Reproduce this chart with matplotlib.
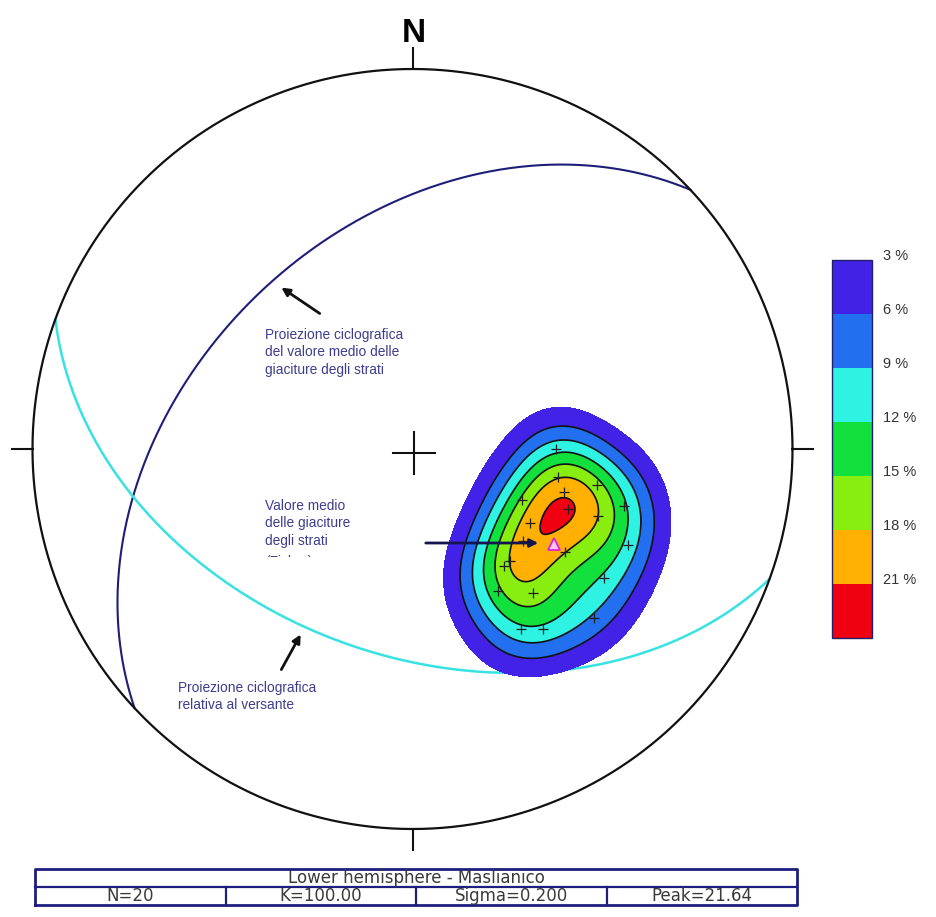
import numpy as np
import matplotlib
matplotlib.use("Agg")
import matplotlib.pyplot as plt
from matplotlib.transforms import Bbox

plt.rcParams['font.family'] = ['Liberation Sans', 'DejaVu Sans']

pole_trend = [90, 101, 111, 101, 105, 115, 122, 130, 106, 139,
              124, 110, 124, 140, 149, 149, 144, 133, 142, 114]
pole_plunge = [59, 58, 54, 49, 42, 64, 60, 59, 56, 58,
               50, 47, 39, 49, 54, 44, 41, 35, 58, 38]
mean_trend, mean_plunge = 124, 53          # valore medio (triangolo)

# Piani: (immersione, inclinazione)
piano_medio = (317, 42)
piano_versante = (200, 45)

livelli = [3, 6, 9, 12, 15, 18, 21]
etichette = ['3 %', '6 %', '9 %', '12 %', '15 %', '18 %', '21 %']
colori = ['#4222E6', '#2270F0', '#2EF2E2', '#12E03C', '#88EE10', '#FFB000', '#F00010']
peak = 21.64
kappa = 56    # concentrazione del kernel di Fisher usato per le isolinee

titolo_tabella = 'Lower hemisphere - Maslianico'
celle_tabella = ['N=20', 'K=100.00', 'Sigma=0.200', 'Peak=21.64']

# --- geometria della figura (pixel) ---
W, H = 936, 917
CX, CY, R = 412.5, 449.0, 380.0


def px(x, y):
    """pixel dell'immagine -> coordinate del reticolo (raggio 1)"""
    return (x - CX) / R, (CY - y) / R


def proietta(trend, plunge):
    """proiezione equiareale, emisfero inferiore"""
    t = np.radians(trend)
    p = np.radians(plunge)
    r = np.sqrt(2) * np.sin((np.pi / 2 - p) / 2)
    return r * np.sin(t), r * np.cos(t)


def vettori(trend, plunge):
    t = np.radians(np.asarray(trend, float))
    p = np.radians(np.asarray(plunge, float))
    return np.stack([np.cos(p) * np.sin(t), np.cos(p) * np.cos(t), np.sin(p)], axis=-1)


def ciclografica(immersione, inclinazione, n=361):
    dd = np.radians(immersione)
    d = np.radians(inclinazione)
    s = np.array([np.sin(dd - np.pi / 2), np.cos(dd - np.pi / 2), 0.0])
    v = np.array([np.cos(d) * np.sin(dd), np.cos(d) * np.cos(dd), np.sin(d)])
    phi = np.linspace(0, np.pi, n)
    vec = np.outer(np.cos(phi), s) + np.outer(np.sin(phi), v)
    plunge = np.degrees(np.arcsin(np.clip(vec[:, 2], -1, 1)))
    trend = np.degrees(np.arctan2(vec[:, 0], vec[:, 1]))
    return proietta(trend, plunge)


fig = plt.figure(figsize=(W / 100, H / 100), dpi=100)
ax = fig.add_axes([0, 0, 1, 1])
ax.set_xlim(-CX / R, (W - CX) / R)
ax.set_ylim(-(H - CY) / R, CY / R)
ax.axis('off')

# densita' dei poli (kernel di Fisher sulla sfera), riportata al picco
g = np.linspace(-1, 1, 501)
X, Y = np.meshgrid(g, g)
rr = np.hypot(X, Y)
theta = 2 * np.arcsin(np.clip(rr / np.sqrt(2), 0, 1))
tr = np.arctan2(X, Y)
grid = np.stack([np.sin(theta) * np.sin(tr), np.sin(theta) * np.cos(tr), np.cos(theta)], axis=-1)
poli = vettori(pole_trend, pole_plunge)
dens = np.zeros_like(X)
for p in poli:
    c = np.abs(grid @ p)
    dens += np.exp(kappa * (c - 1))
dens = dens / dens[rr <= 1].max() * peak
dens[rr > 1] = np.nan

cf = ax.contourf(X, Y, dens, levels=livelli + [peak + 1], colors=colori, zorder=2)
ax.contour(X, Y, dens, levels=livelli[1:], colors='#111111', linewidths=1.2, zorder=3)

# ciclografiche
xm, ym = ciclografica(*piano_medio)
ax.plot(xm, ym, color='#1E1E78', lw=1.5, zorder=1)
xv, yv = ciclografica(*piano_versante)
ax.plot(xv, yv, color='#38E2E2', lw=1.8, zorder=1)

# poli e valore medio
xp, yp = proietta(np.array(pole_trend), np.array(pole_plunge))
ax.plot(xp, yp, '+', color='#202020', ms=7, mew=0.9, zorder=4)
xt, yt = proietta(mean_trend, mean_plunge)
ax.plot(xt, yt, '^', ms=9, mfc='#F6C8F4', mec='#E020D8', mew=1.3, zorder=5)

# cerchio primitivo, tacche e croce centrale
a = np.linspace(0, 2 * np.pi, 721)
ax.plot(np.cos(a), np.sin(a), color='#111111', lw=1.6, zorder=6)
tk = 0.055
for dx, dy in [(0, 1), (1, 0), (0, -1), (-1, 0)]:
    ax.plot([dx, dx * (1 + tk)], [dy, dy * (1 + tk)], color='#111111', lw=1.5)
cc = 0.055
ax.plot([-cc + 0.004, cc + 0.004], [-0.011, -0.011], color='#111111', lw=1.5)
ax.plot([0.004, 0.004], [-cc - 0.011, cc - 0.011], color='#111111', lw=1.5)
ax.text(*px(414, 34), 'N', fontsize=24, fontweight='bold', ha='center', va='center')

# annotazioni
col_txt = '#3D3D8F'
fs = 9.9
ax.text(*px(265, 328), 'Proiezione ciclografica\ndel valore medio delle\ngiaciture degli strati',
        fontsize=fs, color=col_txt, ha='left', va='top', linespacing=1.3)
ax.annotate('', xy=px(279, 286), xytext=px(322, 315),
            arrowprops=dict(arrowstyle='-|>', color='#111111', lw=2, mutation_scale=12))

ax.text(*px(265, 499), 'Valore medio\ndelle giaciture\ndegli strati',
        fontsize=fs, color=col_txt, ha='left', va='top', linespacing=1.3)
frag = ax.text(*px(265, 555), '(Fisher)', fontsize=fs, color=col_txt, ha='left', va='top')
frag.set_clip_box(Bbox([[250, H - 557], [430, H - 550]]))
frag.set_clip_on(True)
ax.annotate('', xy=px(541, 543), xytext=px(423, 543),
            arrowprops=dict(arrowstyle='-|>', color='#141450', lw=2, mutation_scale=12))

ax.text(*px(178, 681), 'Proiezione ciclografica\nrelativa al versante',
        fontsize=fs, color=col_txt, ha='left', va='top', linespacing=1.3)
ax.annotate('', xy=px(302, 632), xytext=px(280, 672),
            arrowprops=dict(arrowstyle='-|>', color='#111111', lw=2, mutation_scale=12))

# scala dei colori
cax = fig.add_axes([832 / W, 1 - 638 / H, 40 / W, 378 / H])
cb = fig.colorbar(cf, cax=cax, drawedges=True)
cax.invert_yaxis()
cb.set_ticks(livelli)
cb.set_ticklabels(etichette)
cb.outline.set_edgecolor('#202068')
cb.outline.set_linewidth(1.0)
cb.dividers.set_color('#111111')
cb.dividers.set_linewidth(1.2)
cax.tick_params(length=0, pad=8, labelsize=10.5, labelcolor='#333333')
for t in cax.get_yticklabels():
    t.set_va('baseline')

# tabella
tax = fig.add_axes([35 / W, 1 - 905 / H, 762 / W, 36 / H])
tax.set_xlim(0, 4)
tax.set_ylim(0, 2)
tax.axis('off')
bordo = '#1E1E80'
tax.plot([0, 4, 4, 0, 0], [0, 0, 2, 2, 0], color=bordo, lw=2, clip_on=False)
tax.plot([0, 4], [1, 1], color=bordo, lw=1.6, clip_on=False)
for i in range(1, 4):
    tax.plot([i, i], [0, 1], color=bordo, lw=1.6, clip_on=False)
tab_font = dict(ha='center', va='center', fontsize=12, color='#3A3A3A', family='DejaVu Sans')
tax.text(2, 1.5, titolo_tabella, **tab_font)
for i, s in enumerate(celle_tabella):
    tax.text(i + 0.5, 0.5, s, **tab_font)

fig.savefig('out.png', dpi=100, facecolor='white')
